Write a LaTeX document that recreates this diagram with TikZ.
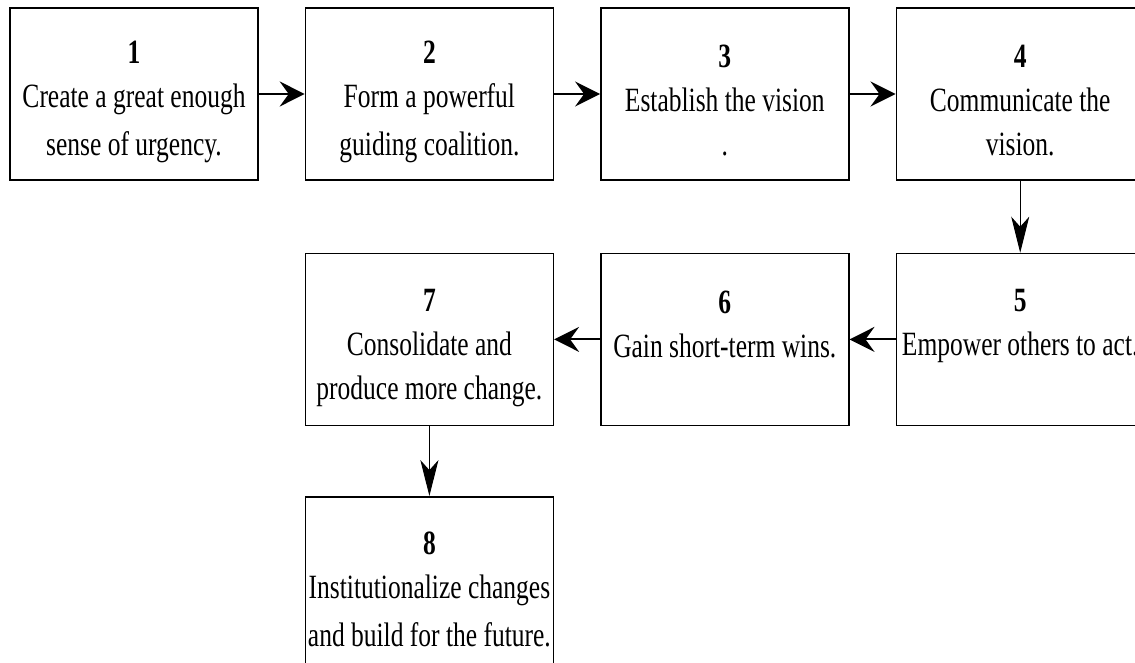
\documentclass[tikz,border=0pt]{standalone}
\usepackage{fontspec}
\setmainfont{Liberation Serif}[FakeStretch=0.75]
\usepackage{tikz}
\usetikzlibrary{arrows.meta, positioning}

\newcommand{\linestrut}{\rule[-1.5pt]{0pt}{21pt}}
\newcommand{\steptext}[3]{\linestrut\textbf{#1}\\\linestrut #2\\\linestrut #3}

\begin{document}
\begin{tikzpicture}[node distance=36pt and 23pt,
        stepbox/.style={draw=black, line width=0.7pt, fill=white, minimum width=124pt, minimum height=86pt,
            align=center, inner sep=0pt, font=\fontsize{17}{20.5}\selectfont},
        flowh/.style={-{Stealth[length=12.5pt, width=12.5pt, inset=4.5pt]}, line width=1pt},
        flowv/.style={-{Stealth[length=18pt, width=9pt, inset=5pt]}, line width=0.5pt}]
        \useasboundingbox (0,0) rectangle (567.5pt,-331.5pt);

        % first row, left to right
        \node (step1) [stepbox] at (67pt,-47pt) {\steptext{1}{Create a great enough}{sense of urgency.}};
        \node (step2) [stepbox, right=of step1] {\steptext{2}{Form a powerful}{guiding coalition.}};
        \node (step3) [stepbox, right=of step2] {\steptext{3}{Establish the vision}{.}};
        \node (step4) [stepbox, right=of step3] {\steptext{4}{Communicate the}{vision.}};

        % second row, right to left
        \node (step5) [stepbox, below=of step4] {\steptext{5}{Empower others to act.}{}};
        \node (step6) [stepbox, left=of step5] {\steptext{6}{Gain short-term wins.}{}};
        \node (step7) [stepbox, left=of step6] {\steptext{7}{Consolidate and}{produce more change.}};
        \node (step8) [stepbox, below=35pt of step7] {\steptext{8}{Institutionalize changes}{and build for the future.}};

        \draw [flowh] (step1) -- (step2);
        \draw [flowh] (step2) -- (step3);
        \draw [flowh] (step3) -- (step4);
        \draw [flowv] (step4) -- (step5);
        \draw [flowh] (step5) -- (step6);
        \draw [flowh] (step6) -- (step7);
        \draw [flowv] (step7) -- (step8);
    \end{tikzpicture}
\end{document}
